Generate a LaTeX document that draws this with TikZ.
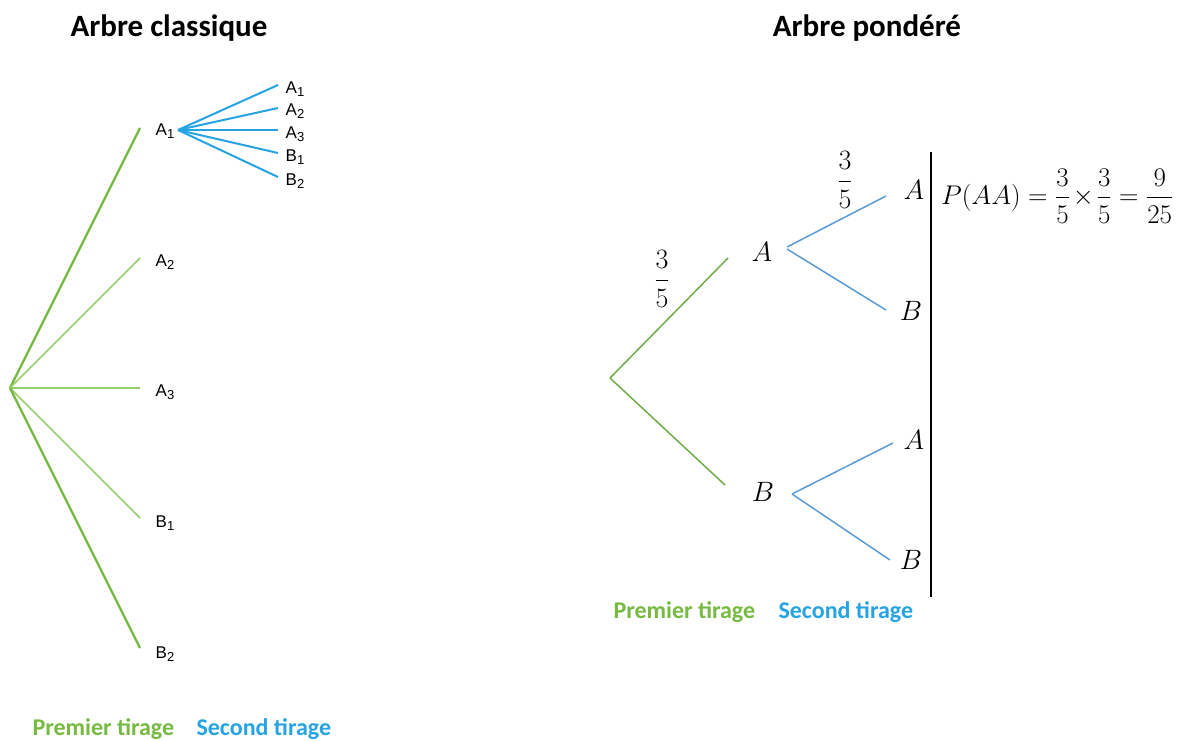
\RequirePackage{fix-cm}
\documentclass[tikz,border=0pt]{standalone}
\usepackage{fontspec}
\usepackage{amsmath}
\setmainfont{Carlito}
\newfontfamily\labfont{Liberation Sans}
\definecolor{gA}{RGB}{118,186,66}
\definecolor{gAlight}{RGB}{150,206,110}
\definecolor{bA}{RGB}{38,163,226}
\definecolor{gB}{RGB}{112,173,71}
\definecolor{bB}{RGB}{91,155,213}
\newcommand{\lbl}[2]{#1\raisebox{-0.35ex}{\fontsize{13}{14}\selectfont #2}}
\tikzset{
  title/.style={font=\fontsize{31}{36}\selectfont\bfseries},
  legend/.style={font=\fontsize{24}{28}\selectfont\bfseries},
  lab/.style={font=\labfont\fontsize{17}{19}\selectfont, inner sep=0pt},
  gthick/.style={draw=gA, line width=2.4pt},
  gthin/.style={draw=gAlight, line width=1.6pt},
  bfan/.style={draw=bA, line width=2pt},
  mlab/.style={font=\fontsize{28}{32}\selectfont, inner sep=0pt},
  gline/.style={draw=gB, line width=1.5pt},
  bline/.style={draw=bB, line width=1.5pt},
}
\begin{document}
\begin{tikzpicture}[x=1pt,y=-1pt]
\path[use as bounding box, fill=white] (0,0) rectangle (1180,741);

% ---- left: classical tree ----
\node[title] (t1) at (169,28) {Arbre classique};
\coordinate (r) at (10,388);
\coordinate (e1) at (140,128);
\coordinate (e2) at (140,258);
\coordinate (e3) at (140,388);
\coordinate (e4) at (140,518);
\coordinate (e5) at (140,648);
\node[lab] (n1) at (165,131) {\lbl{A}{1}};
\node[lab] (n2) at (165,262) {\lbl{A}{2}};
\node[lab] (n3) at (165,392) {\lbl{A}{3}};
\node[lab] (n4) at (165,523) {\lbl{B}{1}};
\node[lab] (n5) at (165,654) {\lbl{B}{2}};
\draw[gthick] (r) -- (e1);
\draw[gthin] (r) -- (e2);
\draw[gthin] (r) -- (e3);
\draw[gthin] (r) -- (e4);
\draw[gthick] (r) -- (e5);

\coordinate (f0) at (178,130);
\coordinate (f1) at (278,85);
\coordinate (f2) at (278,108);
\coordinate (f3) at (278,130);
\coordinate (f4) at (278,153);
\coordinate (f5) at (278,177);
\foreach \i in {1,...,5} \draw[bfan] (f0) -- (f\i);
\node[lab] (s1) at (295,89) {\lbl{A}{1}};
\node[lab] (s2) at (295,111) {\lbl{A}{2}};
\node[lab] (s3) at (295,134) {\lbl{A}{3}};
\node[lab] (s4) at (295,157) {\lbl{B}{1}};
\node[lab] (s5) at (295,181) {\lbl{B}{2}};

\node[legend, text=gA, anchor=west] (l1) at (29,729) {Premier tirage};
\node[legend, text=bA, anchor=west] (l2) at (193,729) {Second tirage};

% ---- right: weighted tree ----
\node[title] (t2) at (867,28) {Arbre pondéré};
\coordinate (R) at (610,378);
\coordinate (RA) at (728,258);
\coordinate (RB) at (725,485);
\draw[gline] (R) -- (RA);
\draw[gline] (R) -- (RB);
\node[mlab] (A) at (762,252) {$A$};
\node[mlab] (B) at (763,492) {$B$};
\node[mlab] (p1) at (662,279) {$\dfrac{3}{5}$};

\coordinate (Aa) at (787,247);
\coordinate (Ab) at (787,249);
\coordinate (AA) at (886,196);
\coordinate (AB) at (886,310);
\draw[bline] (Aa) -- (AA);
\draw[bline] (Ab) -- (AB);
\node[mlab] (AAl) at (914,190) {$A$};
\node[mlab] (ABl) at (911,311) {$B$};
\node[mlab] (p2) at (845,180) {$\dfrac{3}{5}$};

\coordinate (Ba) at (792,494);
\coordinate (BA) at (893,443);
\coordinate (BB) at (890,560);
\draw[bline] (Ba) -- (BA);
\draw[bline] (Ba) -- (BB);
\node[mlab] (BAl) at (914,440) {$A$};
\node[mlab] (BBl) at (911,560) {$B$};

\coordinate (v1) at (931,152);
\coordinate (v2) at (931,597);
\draw[black, line width=1.3pt] (v1) -- (v2);

\node[mlab, anchor=west, font=\fontsize{27}{31}\selectfont] (pf) at (941,196)
  {$P(AA)=\dfrac{3}{5}\mskip-2mu\times\mskip-2mu\dfrac{3}{5}=\dfrac{9}{25}$};

\node[legend, text=gA, anchor=west] (r1) at (610,612) {Premier tirage};
\node[legend, text=bA, anchor=west] (r2) at (775,612) {Second tirage};
\end{tikzpicture}
\end{document}
